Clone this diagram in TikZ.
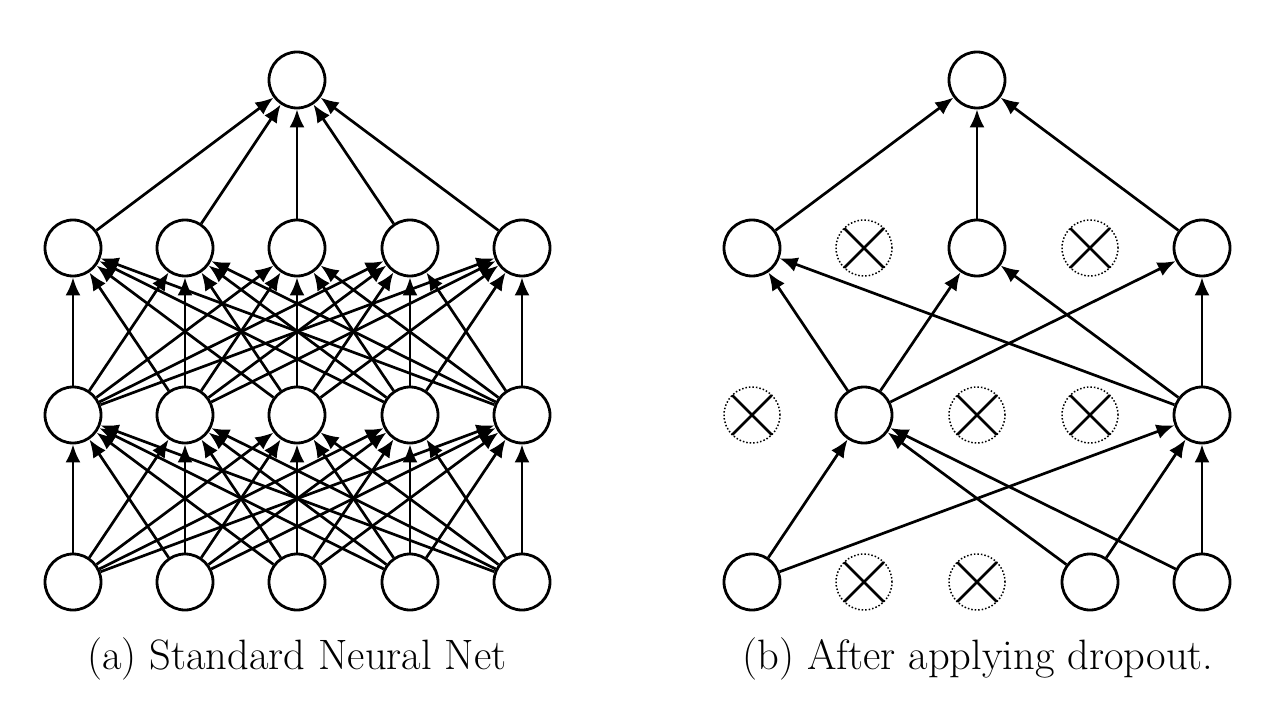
\documentclass[tikz,border=0pt]{standalone}
\usetikzlibrary{arrows.meta}
\begin{document}
\begin{tikzpicture}[x=1pt,y=-1pt,
  neuron/.style={circle,draw,line width=2.8pt,minimum size=56pt,inner sep=0pt,fill=white},
  dropped/.style={circle,draw,dotted,line width=1.5pt,minimum size=56pt,inner sep=0pt,
    path picture={\draw[solid,line width=2.8pt]
      (path picture bounding box.north west)--(path picture bounding box.south east)
      (path picture bounding box.north east)--(path picture bounding box.south west);}},
  conn/.style={line width=2.7pt,-{Latex[length=18pt,width=15pt]}},
  captext/.style={font=\fontsize{42.5}{50}\selectfont,inner sep=0pt}]
\useasboundingbox (0,0) rectangle (1282,727);
% ---------- (a) standard network ----------
\foreach \i/\x in {1/73,2/185,3/297,4/410,5/522} {
  \node[neuron] (Lin\i) at (\x,582) {};
  \node[neuron] (Lha\i) at (\x,415) {};
  \node[neuron] (Lhb\i) at (\x,248) {};
}
\node[neuron] (Lout) at (297,80) {};
\foreach \i in {1,...,5} {
  \foreach \j in {1,...,5} {
    \draw[conn] (Lin\i) -- (Lha\j);
    \draw[conn] (Lha\i) -- (Lhb\j);
  }
  \draw[conn] (Lhb\i) -- (Lout);
}
\node[captext] (capa) at (297,659) {(a) Standard Neural Net};
% ---------- (b) after dropout ----------
\node[neuron] (Rout) at (977,80) {};
\node[neuron] (Rb1) at (752,248) {};
\node[dropped] (Rb2) at (864,248) {};
\node[neuron] (Rb3) at (977,248) {};
\node[dropped] (Rb4) at (1090,248) {};
\node[neuron] (Rb5) at (1202,248) {};
\node[dropped] (Ra1) at (752,415) {};
\node[neuron] (Ra2) at (864,415) {};
\node[dropped] (Ra3) at (977,415) {};
\node[dropped] (Ra4) at (1090,415) {};
\node[neuron] (Ra5) at (1202,415) {};
\node[neuron] (Rin1) at (752,582) {};
\node[dropped] (Rin2) at (864,582) {};
\node[dropped] (Rin3) at (977,582) {};
\node[neuron] (Rin4) at (1090,582) {};
\node[neuron] (Rin5) at (1202,582) {};
\foreach \s in {Rb1,Rb3,Rb5} \draw[conn] (\s) -- (Rout);
\foreach \s in {Ra2,Ra5} \foreach \t in {Rb1,Rb3,Rb5} \draw[conn] (\s) -- (\t);
\foreach \s in {Rin1,Rin4,Rin5} \foreach \t in {Ra2,Ra5} \draw[conn] (\s) -- (\t);
\node[captext] (capb) at (978,659) {(b) After applying dropout.};
\end{tikzpicture}
\end{document}
